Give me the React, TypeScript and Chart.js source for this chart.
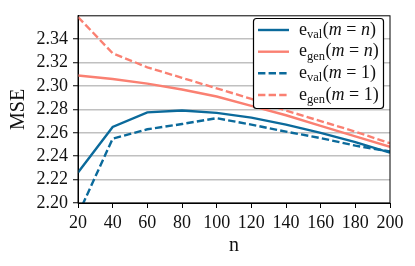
import React, { useEffect, useRef } from "react";
import { Chart, registerables } from "chart.js";

Chart.register(...registerables);

const nValues = [20, 40, 60, 80, 100, 120, 140, 160, 180, 200];
const evalMn = [2.226, 2.265, 2.2775, 2.279, 2.277, 2.273, 2.267, 2.26, 2.252, 2.243];
const genMn = [2.309, 2.306, 2.302, 2.297, 2.291, 2.283, 2.275, 2.266, 2.257, 2.248];
const evalM1 = [2.19, 2.255, 2.263, 2.2675, 2.2725, 2.267, 2.261, 2.2555, 2.249, 2.244];
const genM1 = [2.359, 2.328, 2.316, 2.307, 2.298, 2.289, 2.279, 2.27, 2.261, 2.251];
const seriesSubs = ["val", "gen", "val", "gen"];
const seriesM = ["n", "n", "1", "1"];
const xTicks = [20, 40, 60, 80, 100, 120, 140, 160, 180, 200];
const yTickMin = 2.2;
const yTickMax = 2.34;

const BLUE = "#0b6a9b";
const SALMON = "#fa8072";
const SERIF = "'Liberation Serif', 'DejaVu Serif', serif";
const DASH = [7.4, 3.2];
const TEXT = "#111";

const frameAndLegend = {
  id: "frameAndLegend",
  afterDatasetsDraw(chart: any) {
    const { ctx, chartArea } = chart;
    ctx.save();
    ctx.strokeStyle = "#000";
    ctx.lineWidth = 1;
    ctx.strokeRect(chartArea.left, chartArea.top, chartArea.right - chartArea.left, chartArea.bottom - chartArea.top);
    ctx.restore();
  },
  afterDraw(chart: any) {
    const { ctx } = chart;
    const bx = 253, by = 18, bw = 130, bh = 90;
    ctx.save();
    ctx.beginPath();
    ctx.roundRect(bx + 0.5, by + 0.5, bw, bh, 3);
    ctx.fillStyle = "#fff";
    ctx.fill();
    ctx.strokeStyle = "#000";
    ctx.lineWidth = 1.2;
    ctx.stroke();
    const rowY = [30, 51.7, 73.3, 95];
    chart.data.datasets.forEach((ds: any, i: number) => {
      const y = rowY[i];
      ctx.beginPath();
      ctx.setLineDash(ds.borderDash || []);
      ctx.strokeStyle = ds.borderColor;
      ctx.lineWidth = ds.borderWidth;
      ctx.moveTo(258, y);
      ctx.lineTo(289, y);
      ctx.stroke();
      ctx.setLineDash([]);
      ctx.fillStyle = TEXT;
      ctx.textBaseline = "alphabetic";
      ctx.textAlign = "left";
      let x = 299;
      const base = y + 4.5;
      const put = (t: string, font: string, dy = 0) => {
        ctx.font = font;
        ctx.fillText(t, x, base + dy);
        x += ctx.measureText(t).width;
      };
      put("e", `18px ${SERIF}`);
      put(seriesSubs[i], `12.5px ${SERIF}`, 3.5);
      x += 0.5;
      put("(", `18px ${SERIF}`);
      put("m", `italic 18px ${SERIF}`);
      put(" = ", `18px ${SERIF}`);
      put(seriesM[i], seriesM[i] === "n" ? `italic 18px ${SERIF}` : `18px ${SERIF}`);
      put(")", `18px ${SERIF}`);
    });
    ctx.restore();
  },
};

export default function App() {
  const canvasRef = useRef<HTMLCanvasElement | null>(null);

  useEffect(() => {
    if (!canvasRef.current) return;
    const toPts = (arr: number[]) => arr.map((v, i) => ({ x: nValues[i], y: v }));
    const chart = new Chart(canvasRef.current, {
      type: "line",
      data: {
        datasets: [
          { label: "e_val(m = n)", data: toPts(evalMn), borderColor: BLUE, borderWidth: 2.4, pointRadius: 0, tension: 0 },
          { label: "e_gen(m = n)", data: toPts(genMn), borderColor: SALMON, borderWidth: 2.4, pointRadius: 0, tension: 0 },
          { label: "e_val(m = 1)", data: toPts(evalM1), borderColor: BLUE, borderWidth: 2.4, borderDash: DASH, pointRadius: 0, tension: 0 },
          { label: "e_gen(m = 1)", data: toPts(genM1), borderColor: SALMON, borderWidth: 2.4, borderDash: DASH, pointRadius: 0, tension: 0 },
        ],
      },
      options: {
        animation: false,
        responsive: false,
        maintainAspectRatio: false,
        devicePixelRatio: 1,
        layout: { padding: { left: 0, right: 25, top: 11, bottom: 0 } },
        plugins: { legend: { display: false }, tooltip: { enabled: false } },
        scales: {
          x: {
            type: "linear",
            min: 20,
            max: 200,
            afterFit: (s: any) => { s.height = 63; },
            afterBuildTicks: (s: any) => { s.ticks = xTicks.map((v) => ({ value: v })); },
            grid: { display: true, drawOnChartArea: false, drawTicks: true, tickLength: 5, tickColor: "#000", tickWidth: 1 },
            border: { display: true, color: "#000", width: 1 },
            ticks: { color: TEXT, font: { family: SERIF, size: 18 }, padding: 4, maxRotation: 0, autoSkip: false },
            title: { display: true, text: "n", color: TEXT, font: { family: SERIF, size: 20 }, padding: { top: 0, bottom: 8 } },
          },
          y: {
            type: "linear",
            min: 2.2,
            max: 2.36,
            afterFit: (s: any) => { s.width = 78; },
            afterBuildTicks: (s: any) => {
              const t = [];
              for (let k = 0; yTickMin + k * 0.02 <= yTickMax + 1e-9; k++) t.push({ value: +(yTickMin + k * 0.02).toFixed(2) });
              s.ticks = t;
            },
            grid: { color: "#c0c0c0", lineWidth: 1.5, tickColor: "#000", tickLength: 5, tickWidth: 1 },
            border: { display: true, color: "#000", width: 1 },
            ticks: {
              color: TEXT,
              font: { family: SERIF, size: 18 },
              padding: 5,
              callback: (v: any) => Number(v).toFixed(2),
            },
            title: { display: true, text: "MSE", color: TEXT, font: { family: SERIF, size: 20 }, padding: { top: 7, bottom: 0 } },
          },
        },
      },
      plugins: [frameAndLegend],
    });
    return () => chart.destroy();
  }, []);

  return (
    <div style={{ position: "fixed", left: 0, top: 0, width: 415, height: 266, background: "#fff" }}>
      <canvas ref={canvasRef} width={415} height={266} style={{ width: 415, height: 266 }} />
    </div>
  );
}
